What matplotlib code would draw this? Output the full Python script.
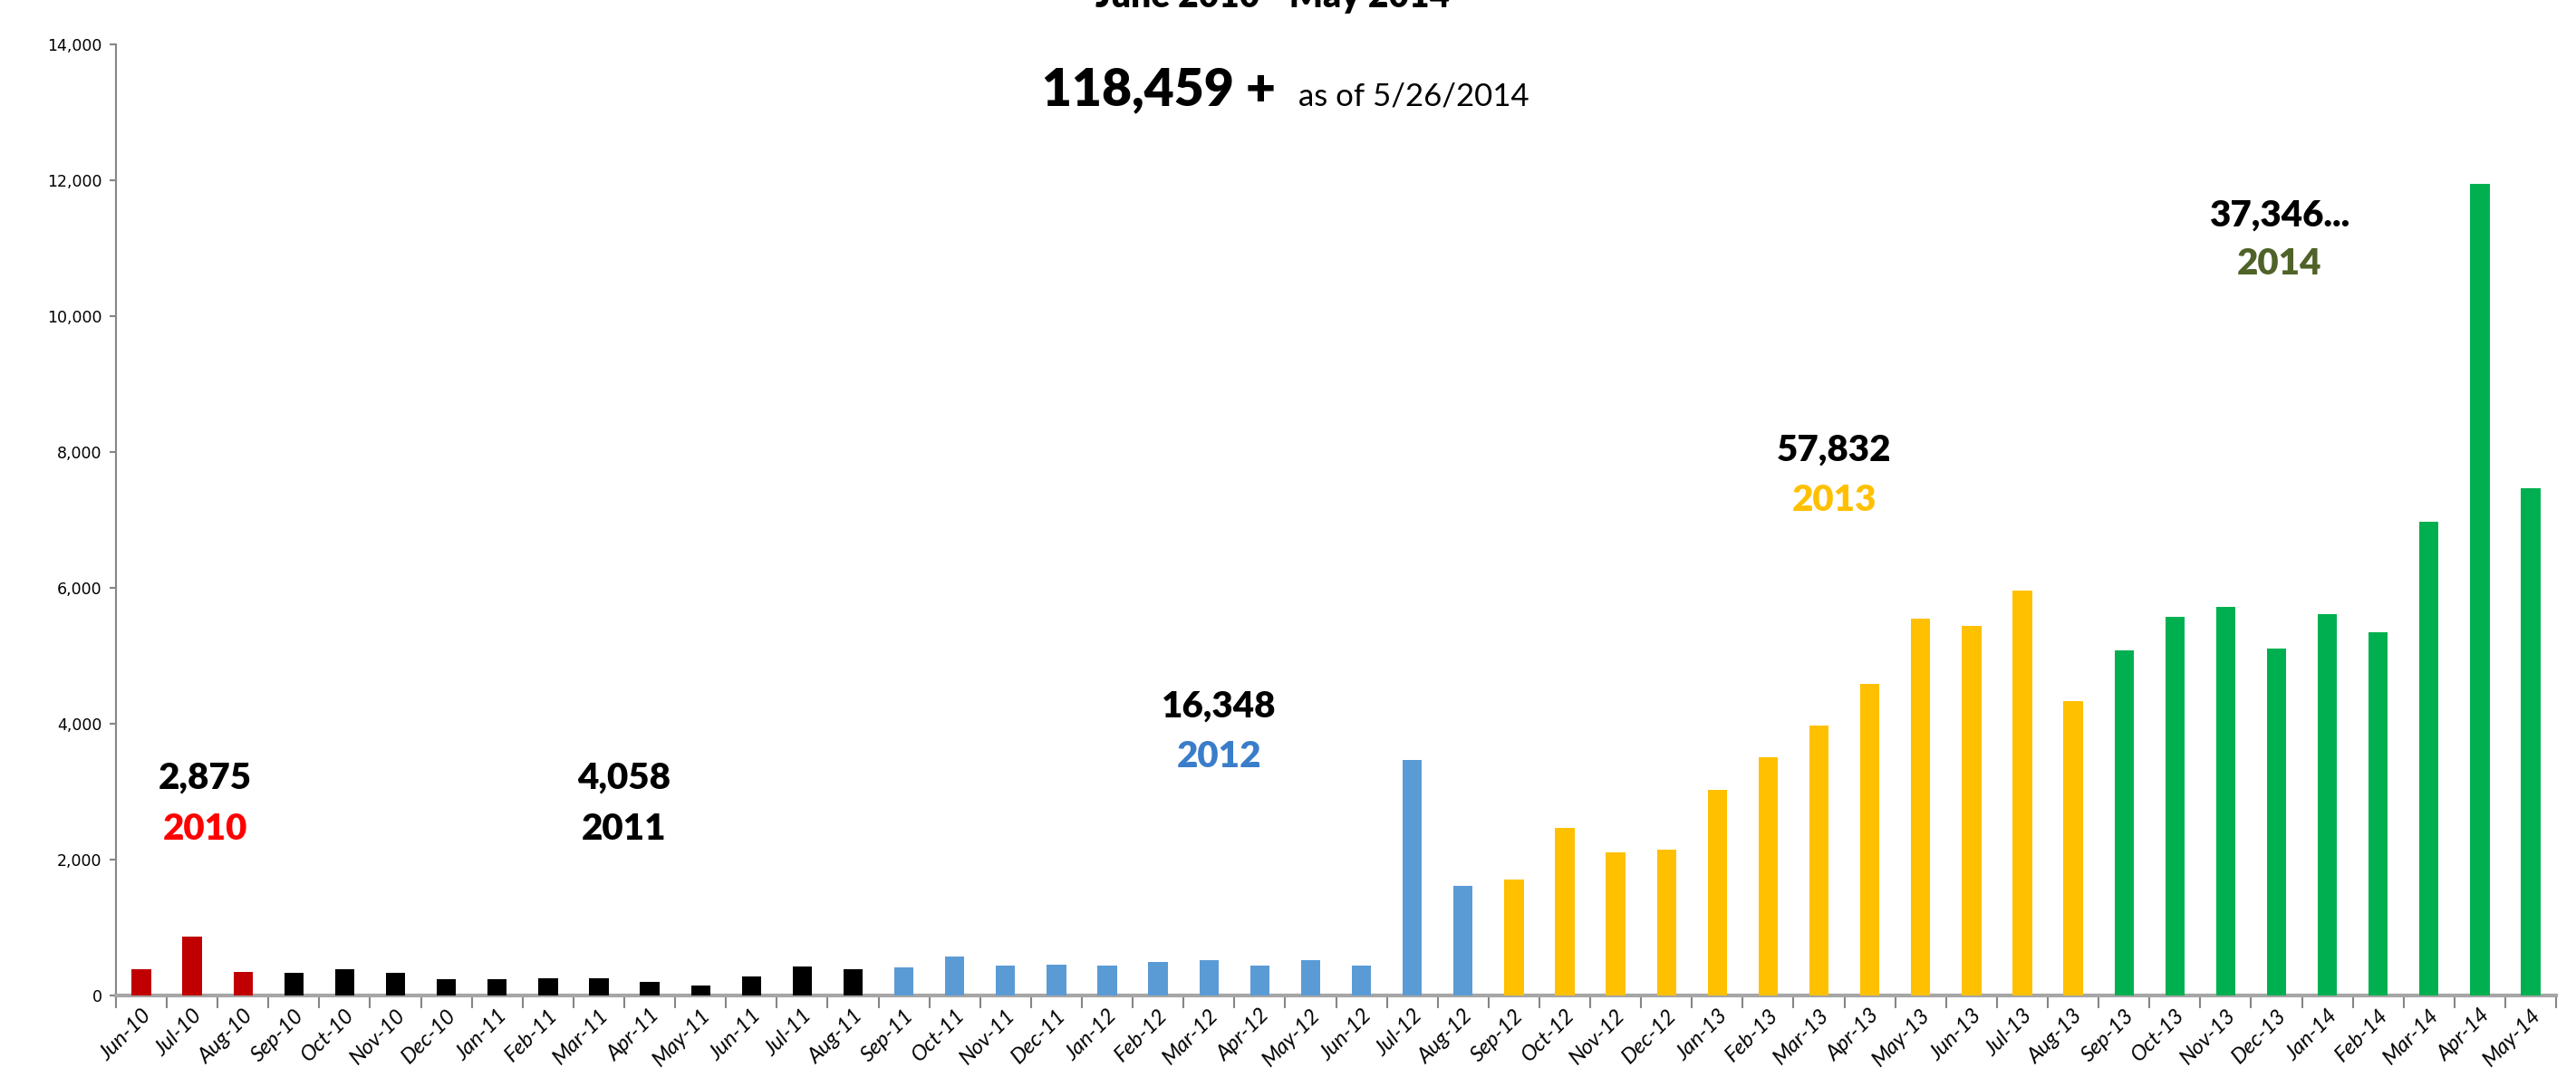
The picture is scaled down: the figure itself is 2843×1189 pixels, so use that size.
import numpy as np
import matplotlib
matplotlib.use('Agg')
import matplotlib.pyplot as plt
from matplotlib.ticker import FuncFormatter, FixedLocator

# monthly counts, Jun-10 .. May-14
months = ['Jun-10', 'Jul-10', 'Aug-10', 'Sep-10', 'Oct-10', 'Nov-10', 'Dec-10',
          'Jan-11', 'Feb-11', 'Mar-11', 'Apr-11', 'May-11', 'Jun-11', 'Jul-11',
          'Aug-11', 'Sep-11', 'Oct-11', 'Nov-11', 'Dec-11',
          'Jan-12', 'Feb-12', 'Mar-12', 'Apr-12', 'May-12', 'Jun-12', 'Jul-12',
          'Aug-12', 'Sep-12', 'Oct-12', 'Nov-12', 'Dec-12',
          'Jan-13', 'Feb-13', 'Mar-13', 'Apr-13', 'May-13', 'Jun-13', 'Jul-13',
          'Aug-13', 'Sep-13', 'Oct-13', 'Nov-13', 'Dec-13',
          'Jan-14', 'Feb-14', 'Mar-14', 'Apr-14', 'May-14']
counts = [390, 860, 340, 330, 390, 330, 235,
          235, 255, 255, 205, 150, 280, 420, 390, 410, 570, 440, 448,
          440, 490, 520, 440, 520, 440, 3468, 1610, 1700, 2470, 2110, 2140,
          3030, 3500, 3970, 4590, 5540, 5440, 5960, 4330, 5080, 5572, 5720, 5100,
          5610, 5350, 6970, 11950, 7466]

# bar colour groups (colour, number of bars)
groups = [('#C00000', 3), ('#000000', 12), ('#5B9BD5', 12),
          ('#FFC000', 12), ('#00B050', 9)]

# year totals shown on the chart
totals = ['2,875', '4,058', '16,348', '57,832', '37,346...']
years = ['2010', '2011', '2012', '2013', '2014']
year_colors = ['#FF0000', '#000000', '#3A7DC9', '#FFC000', '#4F6228']
label_x = [1.26, 9.5, 21.2, 33.3, 42.05]
label_y = [3200, 3200, 4253, 8027, 11480]
gap = [760, 760, 746, 747, 720]

bar_colors = []
for c, n in groups:
    bar_colors += [c] * n

fig = plt.figure(figsize=(28.43, 11.89), dpi=100)
ax = fig.add_axes([0.045, 0.0757, 0.9473, 0.8831])

x = np.arange(len(months))
ax.bar(x, counts, width=0.38, color=bar_colors, zorder=3)

ax.set_xlim(-0.5, len(months) - 0.5)
ax.set_ylim(0, 14000)
ax.set_yticks(np.arange(0, 14001, 2000))
ax.yaxis.set_major_formatter(FuncFormatter(lambda v, p: f'{int(v):,}'))
ax.tick_params(axis='y', labelsize=12.5, length=5, color='#868686', width=1.5, pad=6)
for t in ax.get_yticklabels():
    t.set_family('DejaVu Sans')

ax.set_xticks(x)
ax.set_xticklabels(months, rotation=45, ha='right', rotation_mode='anchor',
                   fontsize=17, family='Lato', style='italic')
ax.tick_params(axis='x', which='major', length=0, pad=8)
ax.xaxis.set_minor_locator(FixedLocator(np.arange(-0.5, len(months), 1.0)))
ax.tick_params(axis='x', which='minor', length=10, color='#868686', width=1.5)

for s in ['top', 'right']:
    ax.spines[s].set_visible(False)
ax.spines['left'].set_color('#868686')
ax.spines['left'].set_linewidth(1.5)
ax.spines['bottom'].set_color('#A6A6A6')
ax.spines['bottom'].set_linewidth(3)

for i in range(len(totals)):
    ax.text(label_x[i], label_y[i], totals[i], ha='center', va='center',
            fontsize=29, fontweight='heavy', family='Lato', color='black')
    ax.text(label_x[i], label_y[i] - gap[i], years[i], ha='center', va='center',
            fontsize=29, fontweight='heavy', family='Lato', color=year_colors[i])

fig.text(0.4942, 1 - 8 / 1189, 'June 2010 - May 2014', ha='center', va='baseline',
         fontsize=28, fontweight='heavy', family='Lato')
fig.text(0.4953, 1 - 116 / 1189, '118,459 +', ha='right', va='baseline',
         fontsize=41, fontweight='heavy', family='Lato')
fig.text(0.5040, 1 - 116 / 1189, 'as of 5/26/2014', ha='left', va='baseline',
         fontsize=25, family='Lato')

fig.savefig('out.png', dpi=100)
